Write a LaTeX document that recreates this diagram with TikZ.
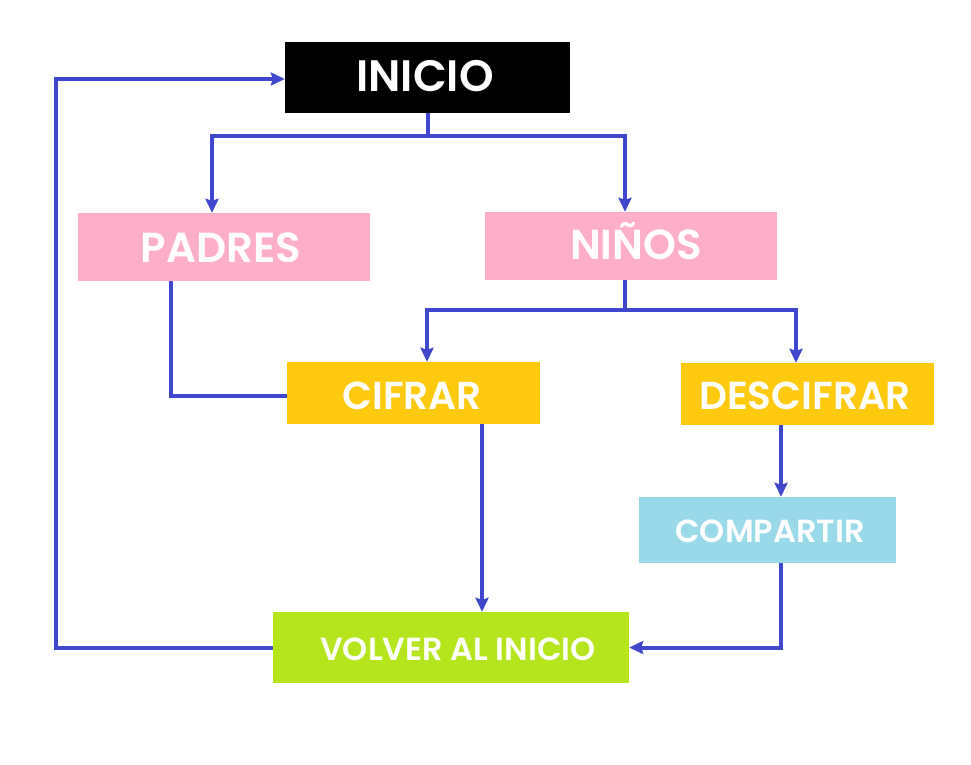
\documentclass[tikz,border=0pt]{standalone}
\usepackage{fontspec}
\setmainfont{Poppins}[BoldFont=* SemiBold]
\usetikzlibrary{arrows.meta}
\definecolor{lnc}{HTML}{3F48CC}
\definecolor{pinkc}{HTML}{FFAEC9}
\definecolor{goldc}{HTML}{FFC90E}
\definecolor{bluec}{HTML}{99D9EA}
\definecolor{limec}{HTML}{B5E61D}
\tikzset{
  box/.style={rectangle, inner sep=0pt},
  txt/.style={inner sep=0pt, text=white, font=\bfseries},
  ln/.style={draw=lnc, line width=4pt},
  arr/.style={ln, -{Stealth[length=14pt,width=13pt,inset=2pt]}},
}
\begin{document}
\begin{tikzpicture}[x=1pt,y=-1pt]
\useasboundingbox[fill=white] (0,0) rectangle (971,765);
\node[box, fill=black, minimum width=285pt, minimum height=71pt] (inicio) at (427.5,77.5) {};
\node[box, fill=pinkc, minimum width=292pt, minimum height=68pt] (padres) at (224,247) {};
\node[box, fill=pinkc, minimum width=292pt, minimum height=68pt] (ninos) at (631,246) {};
\node[box, fill=goldc, minimum width=253pt, minimum height=62pt] (cifrar) at (413.5,393) {};
\node[box, fill=goldc, minimum width=253pt, minimum height=62pt] (descifrar) at (807.5,394) {};
\node[box, fill=bluec, minimum width=257pt, minimum height=66pt] (compartir) at (767.5,530) {};
\node[box, fill=limec, minimum width=356pt, minimum height=71pt] (volver) at (451,647.5) {};

\node[txt, font=\bfseries\fontsize{44}{44}\selectfont, anchor=base] (tinicio) at (425,92) {INICIO};
\node[txt, font=\bfseries\fontsize{42}{42}\selectfont, anchor=base] (tpadres) at (221,262) {PADRES};
\node[txt, font=\bfseries\fontsize{42}{42}\selectfont, anchor=base] (tninos) at (636,259) {NIÑOS};
\node[txt, font=\bfseries\fontsize{39}{39}\selectfont, anchor=base] (tcifrar) at (412,409) {CIFRAR};
\node[txt, font=\bfseries\fontsize{39}{39}\selectfont, anchor=base] (tdescifrar) at (805,409) {DESCIFRAR};
\node[txt, font=\bfseries\fontsize{32}{32}\selectfont, anchor=base] (tcompartir) at (770,542) {COMPARTIR};
\node[txt, font=\bfseries\fontsize{32}{32}\selectfont, anchor=base] (tvolver) at (458,660) {VOLVER AL INICIO};

\draw[arr] (inicio.south) -- ++(0,23) -| ([xshift=-12pt]padres.north);
\draw[arr] (inicio.south) -- ++(0,23) -| ([xshift=-6pt]ninos.north);
\draw[arr] ([xshift=-6pt]ninos.south) -- ++(0,30) -| ([xshift=13.5pt]cifrar.north);
\draw[arr] ([xshift=-6pt]ninos.south) -- ++(0,30) -| ([xshift=-11.5pt]descifrar.north);
\draw[ln] ([xshift=-53pt]padres.south) |- ([yshift=-3pt]cifrar.west);
\draw[arr] ([xshift=68.5pt]cifrar.south) -- ([xshift=68.5pt]cifrar.south |- volver.north);
\draw[arr] ([xshift=-26.5pt]descifrar.south) -- ([xshift=-26.5pt]descifrar.south |- compartir.north);
\draw[arr] ([xshift=13.5pt]compartir.south) |- (volver.east);
\draw[arr] (volver.west) -- ++(-217,0) |- ([yshift=-1.5pt]inicio.west);
\end{tikzpicture}
\end{document}
